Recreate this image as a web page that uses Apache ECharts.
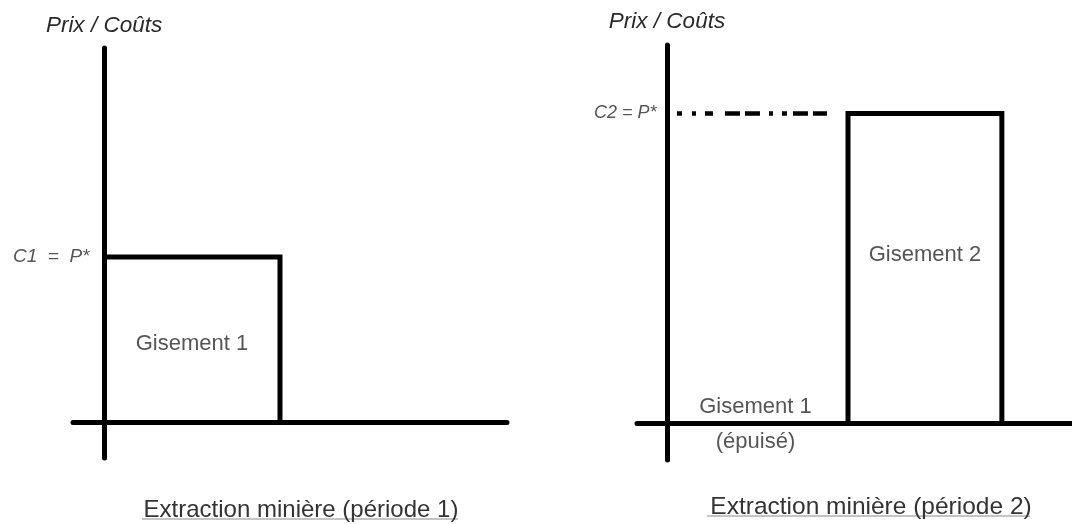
<!DOCTYPE html>
<html>
<head>
<meta charset="utf-8">
<script src="https://cdn.jsdelivr.net/npm/echarts@6/dist/echarts.min.js"></script>
<style>
  html, body { margin: 0; padding: 0; background: #fff; }
  #chart { width: 1072px; height: 524px; }
</style>
</head>
<body>
<div id="chart"></div>
<script>
// ---- Data (conceptual units) ----
// Period 1
const p1Deposit1Range = [0, 4];      // quantity span of Gisement 1
const p1Cost = 4;                    // C1 = P*
// Period 2
const p2Deposit1Range = [0, 4];      // Gisement 1 (exhausted, zero height)
const p2Deposit2Range = [4, 7.4];    // quantity span of Gisement 2
const p2Cost = 7.5;                  // C2 = P*
const p2RefLineRange = [0.22, 3.56]; // dashed reference line at C2

// Texts
const axisNames = ['Prix / Coûts', 'Prix / Coûts'];
const costLabels = ['C1  =  P*', 'C2 = P*'];
const depositLabels = ['Gisement 1', 'Gisement 2', 'Gisement 1\n(épuisé)'];
const panelTitles = ['Extraction minière (période 1)', 'Extraction minière (période 2)'];

// ---- Build ----
const FONT = 'Liberation Sans, Arial, Helvetica, sans-serif';
const TEXT = '#2a2a2a';
const AXIS_W = 5;

function xAxisCfg(gridIndex, min, max) {
  return {
    type: 'value', gridIndex, min, max,
    axisLine: { show: true, onZero: true, lineStyle: { color: '#000', width: AXIS_W } },
    axisTick: { show: false }, axisLabel: { show: false }, splitLine: { show: false }
  };
}
function yAxisCfg(gridIndex, min, max, name, gap) {
  return {
    type: 'value', gridIndex, min, max,
    name, nameLocation: 'end', nameGap: gap,
    nameTextStyle: { fontFamily: FONT, fontStyle: 'italic', fontSize: 22.5, color: TEXT, align: 'center', verticalAlign: 'bottom' },
    axisLine: { show: true, onZero: true, lineStyle: { color: '#000', width: AXIS_W } },
    axisTick: { show: false }, axisLabel: { show: false }, splitLine: { show: false }
  };
}

const rect1 = [[p1Deposit1Range[0], p1Cost], [p1Deposit1Range[1], p1Cost], [p1Deposit1Range[1], 0]];
const rect2 = [[p2Deposit2Range[0], 0], [p2Deposit2Range[0], p2Cost], [p2Deposit2Range[1], p2Cost], [p2Deposit2Range[1], 0]];
const refLine = [[p2RefLineRange[0], p2Cost], [p2RefLineRange[1], p2Cost]];

const labelBase = { show: true, fontFamily: FONT, color: TEXT };
function textPoint(xi, yi, point, label) {
  return {
    type: 'scatter', xAxisIndex: xi, yAxisIndex: yi, silent: true,
    symbolSize: 1, itemStyle: { color: 'transparent' },
    data: [{ value: point, label: Object.assign({}, labelBase, label) }]
  };
}

const option = {
  backgroundColor: '#fff',
  animation: false,
  grid: [
    { left: 73, top: 48, width: 434, height: 410 },
    { left: 637, top: 45, width: 435, height: 415 }
  ],
  xAxis: [xAxisCfg(0, -0.705, 9.16), xAxisCfg(1, -0.663, 8.95)],
  yAxis: [yAxisCfg(0, -0.87, 9.07, axisNames[0], 11), yAxisCfg(1, -0.9, 9.16, axisNames[1], 12)],
  title: [
    { text: panelTitles[0], left: 296, top: 493, textAlign: 'center',
      textStyle: { fontFamily: FONT, fontSize: 24, fontWeight: 'normal', color: '#333' } },
    { text: panelTitles[1], left: 866, top: 490, textAlign: 'center',
      textStyle: { fontFamily: FONT, fontSize: 24.5, fontWeight: 'normal', color: '#333' } }
  ],
  graphic: [
    { type: 'line', shape: { x1: 142, y1: 519, x2: 458, y2: 519 }, style: { stroke: '#8a8a8a', lineWidth: 1 } },
    { type: 'line', shape: { x1: 707, y1: 516, x2: 1030, y2: 516 }, style: { stroke: '#8a8a8a', lineWidth: 1 } }
  ],
  series: [
    { type: 'line', xAxisIndex: 0, yAxisIndex: 0, data: rect1, symbol: 'none', silent: true,
      lineStyle: { color: '#000', width: 5, join: 'miter', cap: 'butt' } },
    { type: 'line', xAxisIndex: 1, yAxisIndex: 1, data: rect2, symbol: 'none', silent: true,
      lineStyle: { color: '#000', width: 5, join: 'miter', cap: 'butt' } },
    { type: 'line', xAxisIndex: 1, yAxisIndex: 1, data: refLine, symbol: 'none', silent: true,
      lineStyle: { color: '#000', width: 4.5, type: [5, 10, 4, 9, 8, 12, 15, 5, 15, 9, 4, 9, 5, 6, 15, 5, 14, 40] } },
    textPoint(0, 0, [0, p1Cost], { formatter: costLabels[0], position: 'left', distance: 14, fontSize: 19, fontStyle: 'italic' }),
    textPoint(1, 1, [0, p2Cost], { formatter: costLabels[1], position: 'left', distance: 10, fontSize: 18, fontStyle: 'italic' }),
    textPoint(0, 0, [(p1Deposit1Range[0] + p1Deposit1Range[1]) / 2, p1Cost / 2],
      { formatter: depositLabels[0], position: 'inside', fontSize: 22, offset: [0, 4] }),
    textPoint(1, 1, [(p2Deposit2Range[0] + p2Deposit2Range[1]) / 2, p2Cost / 2],
      { formatter: depositLabels[1], position: 'inside', fontSize: 22, offset: [0, -13] }),
    textPoint(1, 1, [(p2Deposit1Range[0] + p2Deposit1Range[1]) / 2, 0],
      { formatter: depositLabels[2], position: 'inside', fontSize: 22, lineHeight: 35, offset: [-2, 2] })
  ]
};

const chart = echarts.init(document.getElementById('chart'));
chart.setOption(option);
</script>
</body>
</html>
